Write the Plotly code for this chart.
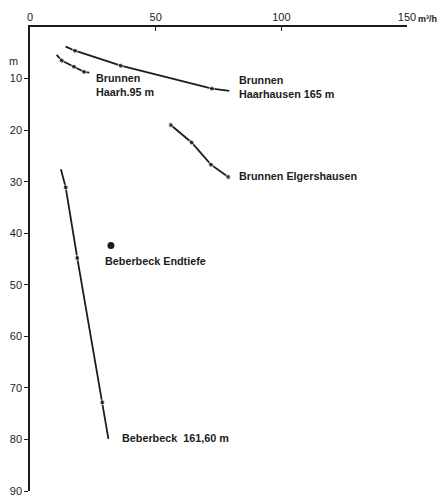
import plotly.graph_objects as go

# Data (flow rate m³/h vs. depth m)
haar165_q = [14.2, 17.9, 36.1, 72.4, 79.3]
haar165_d = [3.8, 4.6, 7.5, 11.95, 12.4]
haar165_measured = [False, True, True, True, False]

haar95_q = [10.6, 12.6, 17.5, 21.5, 23.6]
haar95_d = [5.4, 6.5, 7.7, 8.7, 8.85]
haar95_measured = [False, True, True, True, False]

elg_q = [56.0, 64.3, 72.0, 78.9]
elg_d = [19.0, 22.4, 26.7, 29.1]
elg_measured = [True, True, True, True]

beb_q = [12.3, 14.2, 18.8, 28.8, 31.2]
beb_d = [27.6, 31.1, 44.8, 72.8, 79.9]
beb_measured = [False, True, True, True, False]

endtiefe_q = [32.2]
endtiefe_d = [42.4]

x_ticks = [0, 50, 100, 150]
x_ticklabels = ["0", "50", "100", "150"]
y_ticks = [10, 20, 30, 40, 50, 60, 70, 80, 90]
y_ticklabels = ["10", "20", "30", "40", "50", "60", "70", "80", "90"]

INK = "#1c1c1c"
FONT = "Liberation Sans"

fig = go.Figure()

def add_series(q, d, measured):
    fig.add_trace(go.Scatter(
        x=q, y=d, mode="lines+markers",
        line=dict(color=INK, width=1.8),
        marker=dict(color=INK, size=[5 if m else 0 for m in measured]),
        showlegend=False, hoverinfo="skip", cliponaxis=False))

add_series(haar165_q, haar165_d, haar165_measured)
add_series(haar95_q, haar95_d, haar95_measured)
add_series(elg_q, elg_d, elg_measured)
add_series(beb_q, beb_d, beb_measured)

fig.add_trace(go.Scatter(
    x=endtiefe_q, y=endtiefe_d, mode="markers",
    marker=dict(color=INK, size=7), showlegend=False, hoverinfo="skip"))

labels = [
    ("Brunnen<br>Haarh.95 m", 25.5, 11.2),
    ("Brunnen<br>Haarhausen 165 m", 82.4, 11.6),
    ("Brunnen Elgershausen", 82.4, 28.9),
    ("Beberbeck Endtiefe", 29.0, 45.3),
    ("Beberbeck  161,60 m", 35.8, 79.8),
]
for txt, xx, yy in labels:
    fig.add_annotation(x=xx, y=yy, xref="x", yref="y", text=txt,
                       showarrow=False, xanchor="left", yanchor="middle",
                       align="left",
                       font=dict(family=FONT, size=10.8, color=INK, weight="bold"))

fig.add_annotation(x=1.0, y=1.0, xref="paper", yref="paper", text="m³/h",
                   showarrow=False, xanchor="left", yanchor="bottom", xshift=9, yshift=1,
                   font=dict(family=FONT, size=9, color=INK, weight="bold"))
fig.add_annotation(x=0, y=6.6, xref="paper", yref="y", text="m",
                   showarrow=False, xanchor="right", yanchor="middle", xshift=-10,
                   font=dict(family=FONT, size=11, color=INK))

# page body has an 8px default margin, so the figure is sized to fit the window
fig.update_layout(
    width=437, height=487,
    margin=dict(l=22, r=38, t=19, b=4, autoexpand=False),
    paper_bgcolor="white", plot_bgcolor="white",
    font=dict(family=FONT, size=11, color=INK),
    xaxis=dict(range=[0, 150], side="top", tickvals=x_ticks, ticktext=x_ticklabels,
               automargin=False,
               showgrid=False, zeroline=False, showline=True, linecolor=INK, linewidth=1.5,
               ticks="inside", ticklen=4, tickcolor=INK, tickwidth=1.2,
               tickfont=dict(family=FONT, size=11, color=INK)),
    yaxis=dict(range=[90, 0], tickvals=y_ticks, ticktext=y_ticklabels,
               automargin=False, ticklabeloverflow="allow",
               showgrid=False, zeroline=False, showline=True, linecolor=INK, linewidth=1.5,
               ticks="outside", ticklen=4, tickcolor=INK, tickwidth=1.2,
               tickfont=dict(family=FONT, size=11, color=INK)),
)

fig.write_html("out.html")
